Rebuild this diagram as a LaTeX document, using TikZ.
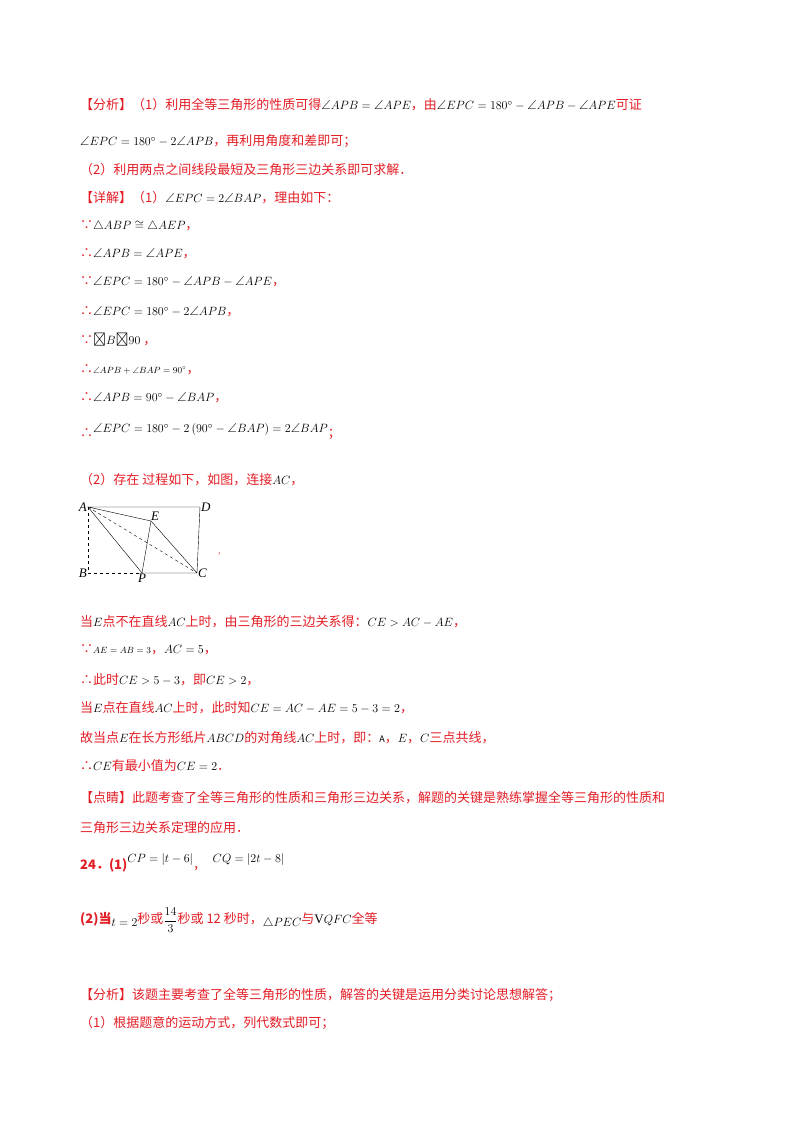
\documentclass[tikz,border=0pt]{standalone}
\usepackage{amsmath,amssymb}
\usepackage{fontspec}
\setmainfont{Liberation Serif}
\newfontfamily\cjk{Noto Sans CJK SC}
\definecolor{rd}{RGB}{228,30,38}
\newcommand\R[1]{{\cjk\color{rd}#1}}
\newcommand\M[1]{{\color{black}$#1$}}
\newcommand\A{\angle}
\begin{document}
\begin{tikzpicture}[x=1pt,y=-1pt,
 ln/.style={anchor=west,inner sep=0,font=\fontsize{13}{15}\selectfont},
 lab/.style={inner sep=1pt,font=\itshape\fontsize{13}{15}\selectfont},
 pt/.style={inner sep=0,minimum size=0}]
\useasboundingbox (0,0) rectangle (800,1132);
\fill[white] (0,0) rectangle (800,1132);
\node[ln] (l1) at (80,105) {\R{【分析】（1）利用全等三角形的性质可得}\M{\A APB=\A APE}\R{，由}\M{\A EPC=180^\circ-\A APB-\A APE}\R{可证}};
\node[ln] (l2) at (80,141) {\M{\A EPC=180^\circ-2\A APB}\R{，再利用角度和差即可；}};
\node[ln] (l3) at (80,170) {\R{（2）利用两点之间线段最短及三角形三边关系即可求解．}};
\node[ln] (l4) at (80,198) {\R{【详解】（1）}\M{\A EPC=2\A BAP}\R{，理由如下：}};
\node[ln] (l5) at (80,226) {\R{∵}\M{\triangle ABP\cong\triangle AEP}\R{，}};
\node[ln] (l6) at (80,254) {\R{∴}\M{\A APB=\A APE}\R{，}};
\node[ln] (l7) at (80,282) {\R{∵}\M{\A EPC=180^\circ-\A APB-\A APE}\R{，}};
\node[ln] (l8) at (80,312) {\R{∴}\M{\A EPC=180^\circ-2\A APB}\R{，}};
\node[ln] (l9) at (80,340) {\R{∵}{\color{black}\cjk �}\M{B}{\color{black}\cjk �}\M{90}\R{\ ，}};
\node[ln] (l10) at (80,370) {\R{∴}{\small\M{\A APB+\A BAP=90^\circ}}\R{，}};
\node[ln] (l11) at (80,398) {\R{∴}\M{\A APB=90^\circ-\A BAP}\R{，}};
\node[ln] (l12) at (80,432) {\R{∴}\raisebox{5pt}{\M{\A EPC=180^\circ-2\left(90^\circ-\A BAP\right)=2\A BAP}}\R{；}};
\node[ln] (l13) at (80,480) {\R{（2）存在 过程如下，如图，连接}\M{AC}\R{，}};
% figure
\coordinate (A) at (88,507); \coordinate (D) at (200,507);
\coordinate (B) at (88,573); \coordinate (C) at (197,573);
\coordinate (P) at (142,573); \coordinate (E) at (151,521);
\draw[dashed] (A)--(B)--(P);
\draw[dashed] (A)--(C);
\draw (A)--(D)--(C)--(P)--(A)--(E)--(C);
\draw (P)--(E);
\node[lab,left] (la) at (A) {A};
\node[lab,right] (ld) at (D) {D};
\node[lab,left] (lb) at (B) {B};
\node[lab,right] (lc) at (C) {C};
\node[lab,below] (lp) at (P) {P};
\node[lab,above right,inner sep=0pt] (le) at (E) {E};
\node[pt] (cm) at (221,554) {\R{\scriptsize ，}};
\node[ln] (l14) at (80,622) {\R{当}\M{E}\R{点不在直线}\M{AC}\R{上时，由三角形的三边关系得：}\M{CE>AC-AE}\R{，}};
\node[ln] (l15) at (80,650) {\R{∵}{\small\M{AE=AB=3}}\R{，}\M{AC=5}\R{，}};
\node[ln] (l16) at (80,680) {\R{∴此时}\M{CE>5-3}\R{，即}\M{CE>2}\R{，}};
\node[ln] (l17) at (80,708) {\R{当}\M{E}\R{点在直线}\M{AC}\R{上时，此时知}\M{CE=AC-AE=5-3=2}\R{，}};
\node[ln] (l18) at (80,738) {\R{故当点}\M{E}\R{在长方形纸片}\M{ABCD}\R{的对角线}\M{AC}\R{上时，即：}{\small\cjk A}\R{，}\M{E}\R{，}\M{C}\R{三点共线，}};
\node[ln] (l19) at (80,766) {\R{∴}\M{CE}\R{有最小值为}\M{CE=2}\R{．}};
\node[ln] (l20) at (80,798) {\R{【点睛】此题考查了全等三角形的性质和三角形三边关系，解题的关键是熟练掌握全等三角形的性质和}};
\node[ln] (l21) at (80,828) {\R{三角形三边关系定理的应用．}};
\node[ln] (l22) at (80,863) {\R{\bfseries 24．(1)}\raisebox{7pt}{\M{CP=\left|t-6\right|}}\R{，}\raisebox{7pt}{\M{\;\;CQ=\left|2t-8\right|}}};
\node[ln] (l23) at (80,920) {\R{\bfseries (2)当}\raisebox{-3pt}{\M{t=2}}\R{秒或}\M{\dfrac{14}{3}}\R{秒或 12 秒时，}\raisebox{-3pt}{\M{\triangle PEC}}\R{与}\M{\mathrm{V}QFC}\R{全等}};
\node[ln] (l24) at (80,995) {\R{【分析】该题主要考查了全等三角形的性质，解答的关键是运用分类讨论思想解答；}};
\node[ln] (l25) at (80,1023) {\R{（1）根据题意的运动方式，列代数式即可；}};
\end{tikzpicture}
\end{document}
